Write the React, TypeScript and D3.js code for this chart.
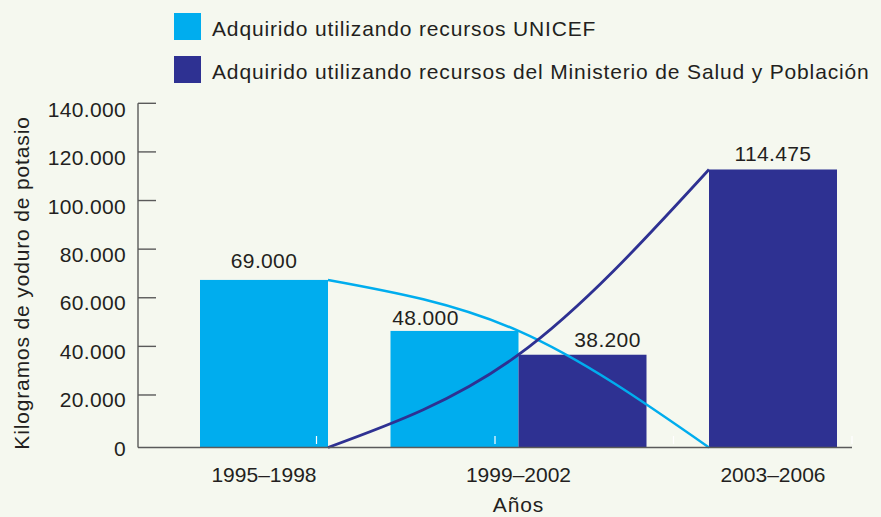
import React from "react";
import * as d3 from "d3";

const categories = ["1995–1998", "1999–2002", "2003–2006"];
const seriesNames = [
  "Adquirido utilizando recursos UNICEF",
  "Adquirido utilizando recursos del Ministerio de Salud y Población",
];
const unicefValues = [69000, 48000, 0];
const ministerioValues = [0, 38200, 114475];
const valueLabels = [
  ["69.000", "48.000", ""],
  ["", "38.200", "114.475"],
];
const yTicks = [0, 20000, 40000, 60000, 80000, 100000, 120000, 140000];
const yTickLabels = ["0", "20.000", "40.000", "60.000", "80.000", "100.000", "120.000", "140.000"];

const W = 881;
const H = 517;
const LIGHT = "#00adee";
const DARK = "#2e3192";
const BG = "#f5f8ef";
const TEXT = "#231f20";
const AXIS = "#5a5a5a";
const FONT = "'Liberation Sans', Arial, sans-serif";
const WORD_SPACING = 0.85;
const NUM_SPACING = 0.35;

export default function App() {
  // bar scale
  const y = d3.scaleLinear().domain([0, 140000]).range([447.5, 107.5]);
  // tick-line scale and tick-label scale (slightly different in the original)
  const yTickLine = d3.scaleLinear().domain([0, 140000]).range([443.6, 103.3]);
  const yTickLabel = d3.scaleLinear().domain([0, 140000]).range([448, 109.5]);
  const x = d3.scalePoint<string>().domain(categories).range([264, 773]);
  const barW = 128;
  const series = [unicefValues, ministerioValues];
  const colors = [LIGHT, DARK];

  type Bar = { s: number; i: number; x0: number; v: number };
  const bars: Bar[] = [];
  categories.forEach((c, i) => {
    const present = series.map((arr, s) => ({ s, v: arr[i] })).filter((d) => d.v > 0);
    const cx = x(c) as number;
    const inner = d3
      .scaleBand<number>()
      .domain(present.map((d) => d.s))
      .range([cx - (barW * present.length) / 2, cx + (barW * present.length) / 2]);
    present.forEach((d) => bars.push({ s: d.s, i, x0: inner(d.s) as number, v: d.v }));
  });

  const c0 = x(categories[0]) as number;
  const c1 = x(categories[1]) as number;
  const c2 = x(categories[2]) as number;

  const line = d3
    .line<[number, number]>()
    .x((d) => d[0])
    .y((d) => y(d[1]))
    .curve(d3.curveNatural);

  const curveX = [c0 + barW / 2, c1, c2 - barW / 2];
  const lightPts: [number, number][] = unicefValues.map((v, i) => [curveX[i], v]);
  const darkPts: [number, number][] = ministerioValues.map((v, i) => [curveX[i], v]);

  const xTickScale = d3.scaleLinear().domain([0, 4]).range([138, 852]);
  const whiteTicks = [1, 2, 3, 4];

  // label nudges [dx, dy above bar top]
  const labelNudge: Record<string, [number, number]> = {
    "0-0": [0, 11.7],
    "0-1": [-29, 5.7],
    "1-1": [25, 7.4],
    "1-2": [0, 8.3],
  };

  return (
    <div style={{ position: "absolute", left: 0, top: 0 }}>
      <svg width={W} height={H} style={{ display: "block", background: BG }} fontFamily={FONT}>
        <rect x={0} y={0} width={W} height={H} fill={BG} />
        {/* legend */}
        {seriesNames.map((n, k) => (
          <g key={n}>
            <rect x={174} y={13 + k * 43} width={27} height={27} fill={colors[k]} />
            <text x={212} y={36 + k * 43} fontSize={21} letterSpacing={WORD_SPACING} fill={TEXT}>
              {n}
            </text>
          </g>
        ))}
        {/* bars */}
        {bars.map((b) => (
          <rect key={`${b.s}-${b.i}`} x={b.x0} y={y(b.v)} width={barW} height={y(0) - y(b.v)} fill={colors[b.s]} />
        ))}
        {/* white tick artifacts */}
        {whiteTicks.map((t) => (
          <line key={t} x1={xTickScale(t)} x2={xTickScale(t)} y1={436} y2={444} stroke="#ffffff" strokeWidth={1.2} />
        ))}
        {/* curves */}
        <path d={line(lightPts) || ""} fill="none" stroke={LIGHT} strokeWidth={2.5} />
        <path d={line(darkPts) || ""} fill="none" stroke={DARK} strokeWidth={2.8} />
        {/* value labels */}
        {bars.map((b) => {
          const lbl = valueLabels[b.s][b.i];
          const [dx, dy] = labelNudge[`${b.s}-${b.i}`] || [0, 8];
          return (
            <text
              key={`l-${b.s}-${b.i}`}
              x={b.x0 + barW / 2 + dx}
              y={y(b.v) - dy}
              textAnchor="middle"
              fontSize={21}
              letterSpacing={NUM_SPACING}
              fill={TEXT}
            >
              {lbl}
            </text>
          );
        })}
        {/* y axis */}
        <line x1={138} x2={138} y1={yTickLine(140000)} y2={y(0)} stroke={AXIS} strokeWidth={1.4} />
        {yTicks.map((t, k) => (
          <g key={t}>
            {t > 0 && (
              <line x1={138} x2={156} y1={yTickLine(t)} y2={yTickLine(t)} stroke={AXIS} strokeWidth={1.4} />
            )}
            <text x={126} y={yTickLabel(t) + 7.5} textAnchor="end" fontSize={21} letterSpacing={NUM_SPACING} fill={TEXT}>
              {yTickLabels[k]}
            </text>
          </g>
        ))}
        {/* x baseline */}
        <line x1={138} x2={852} y1={y(0)} y2={y(0)} stroke={AXIS} strokeWidth={1.6} />
        {categories.map((c) => (
          <text key={c} x={x(c) as number} y={482} textAnchor="middle" fontSize={21} fill={TEXT}>
            {c}
          </text>
        ))}
        <text x={c1} y={512} textAnchor="middle" fontSize={21} letterSpacing={WORD_SPACING} fill={TEXT}>
          Años
        </text>
        <text
          transform={`translate(29, 283) rotate(-90)`}
          textAnchor="middle"
          fontSize={21}
          letterSpacing={WORD_SPACING}
          fill={TEXT}
        >
          Kilogramos de yoduro de potasio
        </text>
      </svg>
    </div>
  );
}
